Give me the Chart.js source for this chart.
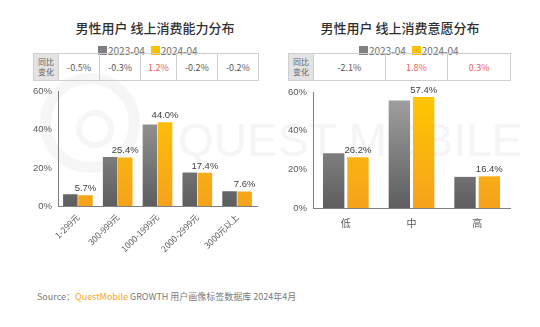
<!DOCTYPE html>
<html>
<head>
<meta charset="UTF-8">
<title>男性用户 线上消费分布</title>
<script src="https://cdn.jsdelivr.net/npm/chart.js"></script>
<style>
  body { margin: 0; width: 540px; height: 327px; background: #fff; position: relative; overflow: hidden;
         font-family: "Noto Sans CJK SC", "Noto Sans", sans-serif; color: #404040; }
  .abs { position: absolute; }
  .title { font-size: 13px; font-weight: 500; color: #303030; text-align: center; }
  .legend { font-size: 10px; color: #6e6e6e; display: flex; align-items: center; white-space: nowrap; }
  .legend i { display: inline-block; width: 9px; height: 9px; margin: 0 1px 0 6px; }
  table.change { border-collapse: collapse; font-size: 9px; }
  table.change td { border: 1px solid #cfcfcf; text-align: center; height: 26px; padding: 0; color: #595959; }
  table.change td.head { background: #e3e3e3; font-size: 8px; line-height: 10px; color: #666; }
  table.change td.up { color: #e8625b; }
  .wm { color: #f5f5f5; font-family: "Liberation Sans", sans-serif; font-size: 46px; white-space: nowrap; }
  .source { font-size: 9px; color: #7a7a7a; white-space: nowrap; }
</style>
</head>
<body>
<div class="abs wm" style="left:178px; top:113px;">QUEST MOBILE</div>
<div class="abs" style="left:40px; top:73px; width:78px; height:78px; border:11px solid #f6f6f6; border-radius:50%;"></div>
<div class="abs" style="left:76px; top:110px; width:26px; height:26px; border:6px solid #f6f6f6; border-radius:50%;"></div>

<div class="abs title" style="left:40px; top:18px; width:230px;">男性用户 线上消费能力分布</div>
<div class="abs title" style="left:300px; top:18px; width:200px;">男性用户 线上消费意愿分布</div>

<div class="abs legend" style="left:92px; top:43px;"><i style="background:#808080"></i>2023-04<i style="background:#ffc000"></i>2024-04</div>
<div class="abs legend" style="left:353px; top:43px;"><i style="background:#808080"></i>2023-04<i style="background:#ffc000"></i>2024-04</div>

<table class="abs change" id="tblLeft" style="left:33px; top:53px; width:226px;"></table>
<table class="abs change" id="tblRight" style="left:288px; top:53px; width:223px;"></table>

<div class="abs" style="left:0; top:80px; width:270px; height:180px;"><canvas id="chartLeft"></canvas></div>
<div class="abs" style="left:275px; top:80px; width:245px; height:160px;"><canvas id="chartRight"></canvas></div>

<div class="abs source" style="left:37px; top:290px;">Source：<span style="color:#f5a623">QuestMobile</span> GROWTH 用户画像标签数据库 2024年4月</div>

<script>
// 消费能力
const abilityLabels = ['1-299元', '300-999元', '1000-1999元', '2000-2999元', '3000元以上'];
const ability2024 = [5.7, 25.4, 44.0, 17.4, 7.6];
const abilityChange = [-0.5, -0.3, 1.2, -0.2, -0.2];
const ability2023 = [6.2, 25.7, 42.8, 17.6, 7.8];

// 消费意愿
const willLabels = ['低', '中', '高'];
const will2024 = [26.2, 57.4, 16.4];
const willChange = [-2.1, 1.8, 0.3];
const will2023 = [28.3, 55.6, 16.1];

const yTicks = [0, 20, 40, 60];

function fillTable(id, changes, firstWidth) {
  const tr = document.createElement('tr');
  let html = '<td class="head" style="width:' + firstWidth + 'px">同比<br>变化</td>';
  for (const c of changes) {
    html += '<td class="' + (c > 0 ? 'up' : '') + '">' + c.toFixed(1) + '%</td>';
  }
  tr.innerHTML = html;
  document.getElementById(id).appendChild(tr);
}
fillTable('tblLeft', abilityChange, 24);
fillTable('tblRight', willChange, 24);

function grad(ctx, area, top, bottom) {
  const g = ctx.createLinearGradient(0, area.bottom, 0, area.top);
  g.addColorStop(0, bottom);
  g.addColorStop(1, top);
  return g;
}
function grayFill(c) {
  const a = c.chart.chartArea;
  if (!a) return '#808080';
  return grad(c.chart.ctx, a, '#a3a3a3', '#5e5e5e');
}
function yellowFill(c) {
  const a = c.chart.chartArea;
  if (!a) return '#ffc000';
  return grad(c.chart.ctx, a, '#ffc800', '#f5a21c');
}

// value labels above the 2024 bars
const valueLabels = {
  id: 'valueLabels',
  afterDatasetsDraw(chart) {
    const ctx = chart.ctx;
    const meta = chart.getDatasetMeta(1);
    ctx.save();
    ctx.font = '9.5px "Liberation Sans", sans-serif';
    ctx.fillStyle = '#3f3f3f';
    ctx.textAlign = 'center';
    ctx.textBaseline = 'bottom';
    meta.data.forEach((bar, i) => {
      ctx.fillText(chart.data.datasets[1].data[i].toFixed(1) + '%', bar.x, bar.y - 2);
    });
    ctx.restore();
  }
};

function makeChart(id, labels, d2023, d2024, opts) {
  return new Chart(document.getElementById(id), {
    type: 'bar',
    data: {
      labels: labels,
      datasets: [
        { label: '2023-04', data: d2023, backgroundColor: grayFill,
          categoryPercentage: opts.cat, barPercentage: opts.bar },
        { label: '2024-04', data: d2024, backgroundColor: yellowFill,
          categoryPercentage: opts.cat, barPercentage: opts.bar }
      ]
    },
    options: {
      responsive: true,
      maintainAspectRatio: false,
      animation: false,
      layout: { padding: { top: opts.top, right: opts.right } },
      plugins: { legend: { display: false }, tooltip: { enabled: false } },
      scales: {
        x: {
          grid: { display: false, drawTicks: false },
          border: { color: '#7f7f7f' },
          ticks: { color: '#595959', font: { size: opts.xFont, family: '"Noto Sans CJK SC", sans-serif' },
                   minRotation: opts.rot, maxRotation: opts.rot, padding: opts.xPad, autoSkip: false },
          afterFit(s) { s.height = opts.xHeight; }
        },
        y: {
          min: 0, max: 60,
          afterBuildTicks(s) { s.ticks = yTicks.map(v => ({ value: v })); },
          grid: { display: false, drawTicks: false },
          border: { color: '#7f7f7f' },
          ticks: { color: '#595959', font: { size: 9.5, family: '"Liberation Sans", sans-serif' },
                   padding: 6, callback: v => v + '%' },
          afterFit(s) { s.width = opts.yWidth; }
        }
      }
    },
    plugins: [valueLabels]
  });
}

makeChart('chartLeft', abilityLabels, ability2023, ability2024,
  { cat: 0.76, bar: 0.96, top: 6, right: 13, xHeight: 54, yWidth: 58, rot: 45, xPad: 6, xFont: 8.5 });
makeChart('chartRight', willLabels, will2023, will2024,
  { cat: 0.74, bar: 0.88, top: 12, right: 10, xHeight: 32, yWidth: 38, rot: 0, xPad: 9, xFont: 10 });
</script>
</body>
</html>
